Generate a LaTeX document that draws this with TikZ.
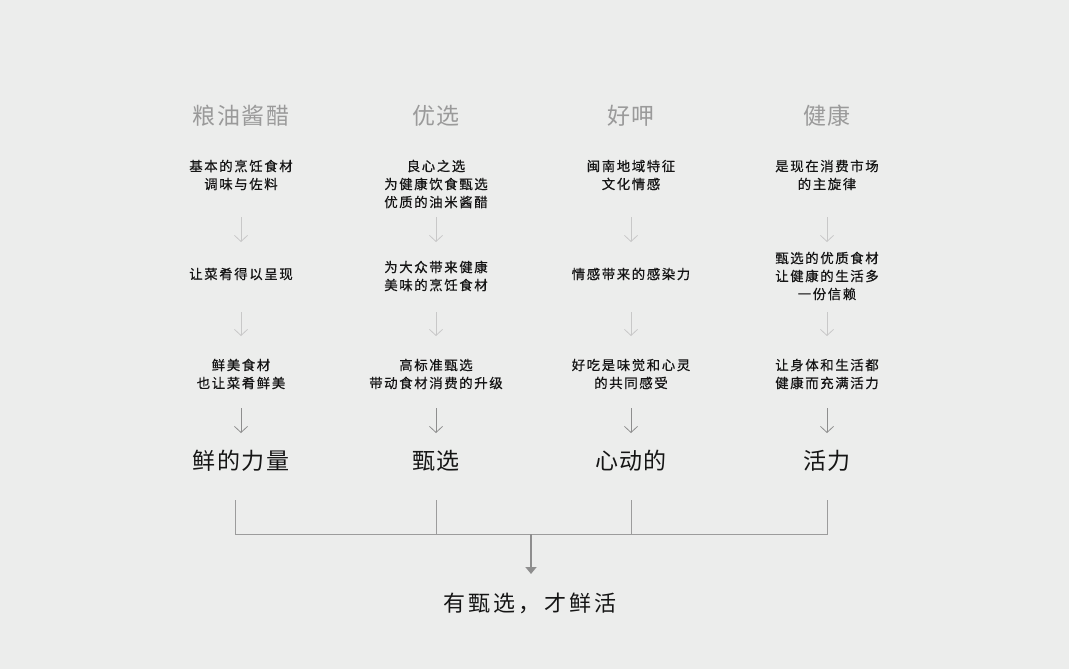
\documentclass[tikz,border=0pt]{standalone}
\usepackage{fontspec}
\usepackage{tikz}
\usepackage{xcolor}
\usetikzlibrary{
    arrows.meta
}
\newfontfamily\desccjk{Noto Sans CJK SC}[LetterSpace=12, FakeBold=0.6]
\newfontfamily\headcjk{Noto Sans CJK SC}[LetterSpace=6]
\newfontfamily\footcjk{Noto Sans CJK SC}[LetterSpace=15]
\definecolor{bggray}{HTML}{ECEDEC}
\definecolor{headgray}{HTML}{9A9A9A}
\definecolor{inkblack}{HTML}{151515}
\definecolor{palegray}{HTML}{C8C8C8}
\definecolor{midgray}{HTML}{8E8E8E}
\definecolor{bargray}{HTML}{9C9C9C}

\begin{document}
\begin{tikzpicture}[x=1pt, y=-1pt,
    headtext/.style={inner sep=0pt, text=headgray, font=\headcjk\fontsize{23}{27}\selectfont},
    desctext/.style={inner sep=0pt, align=center, text=inkblack, font=\desccjk\fontsize{13.4}{18}\selectfont},
    goaltext/.style={inner sep=0pt, text=inkblack, font=\headcjk\fontsize{23}{27}\selectfont},
    paledown/.style={palegray, line width=0.8pt, -{Straight Barb[length=6pt, width=13pt]}},
    darkdown/.style={midgray, line width=0.8pt, -{Straight Barb[length=6pt, width=13pt]}},
    barline/.style={bargray, line width=1pt}]
            \fill[bggray] (0,0) rectangle (1069,669);
            \useasboundingbox (0,0) rectangle (1069,669);

            % column heads
            \node[headtext] (head1) at (241,116) {粮油酱醋};
            \node[headtext] (head2) at (436,116) {优选};
            \node[headtext] (head3) at (631,116) {好呷};
            \node[headtext] (head4) at (827,116) {健康};

            % first row
            \node[desctext] (top1) at (241,175) {基本的烹饪食材\\调味与佐料};
            \node[desctext] (top2) at (436,184) {良心之选\\为健康饮食甄选\\优质的油米酱醋};
            \node[desctext] (top3) at (631,175) {闽南地域特征\\文化情感};
            \node[desctext] (top4) at (827,175) {是现在消费市场\\的主旋律};

            % second row
            \node[desctext] (mid1) at (241,274) {让菜肴得以呈现};
            \node[desctext] (mid2) at (436,276) {为大众带来健康\\美味的烹饪食材};
            \node[desctext] (mid3) at (631,274) {情感带来的感染力};
            \node[desctext] (mid4) at (827,276) {甄选的优质食材\\让健康的生活多\\一份信赖};

            % third row
            \node[desctext] (low1) at (241,374) {鲜美食材\\也让菜肴鲜美};
            \node[desctext] (low2) at (436,374) {高标准甄选\\带动食材消费的升级};
            \node[desctext] (low3) at (631,374) {好吃是味觉和心灵\\的共同感受};
            \node[desctext] (low4) at (827,374) {让身体和生活都\\健康而充满活力};

            % goals
            \node[goaltext] (goal1) at (241,461) {鲜的力量};
            \node[goaltext] (goal2) at (436,461) {甄选};
            \node[goaltext] (goal3) at (631,461) {心动的};
            \node[goaltext] (goal4) at (827,461) {活力};

            \node[inner sep=0pt, text=inkblack, font=\footcjk\fontsize{22}{26}\selectfont] (motto) at (530,603) {有甄选，才鲜活};

            % arrow ends
            \coordinate (a1s) at (241,217); \coordinate (a1e) at (241,242);
            \coordinate (a2s) at (436,217); \coordinate (a2e) at (436,242);
            \coordinate (a3s) at (631,217); \coordinate (a3e) at (631,242);
            \coordinate (a4s) at (827,217); \coordinate (a4e) at (827,242);

            \coordinate (b1s) at (241,312); \coordinate (b1e) at (241,336);
            \coordinate (b2s) at (436,312); \coordinate (b2e) at (436,336);
            \coordinate (b3s) at (631,312); \coordinate (b3e) at (631,336);
            \coordinate (b4s) at (827,312); \coordinate (b4e) at (827,336);

            \coordinate (c1s) at (241,408); \coordinate (c1e) at (241,433);
            \coordinate (c2s) at (436,408); \coordinate (c2e) at (436,433);
            \coordinate (c3s) at (631,408); \coordinate (c3e) at (631,433);
            \coordinate (c4s) at (827,408); \coordinate (c4e) at (827,433);

            \draw[paledown] (a1s)--(a1e);
            \draw[paledown] (a2s)--(a2e);
            \draw[paledown] (a3s)--(a3e);
            \draw[paledown] (a4s)--(a4e);

            \draw[paledown] (b1s)--(b1e);
            \draw[paledown] (b2s)--(b2e);
            \draw[paledown] (b3s)--(b3e);
            \draw[paledown] (b4s)--(b4e);

            \draw[darkdown] (c1s)--(c1e);
            \draw[darkdown] (c2s)--(c2e);
            \draw[darkdown] (c3s)--(c3e);
            \draw[darkdown] (c4s)--(c4e);

            % bracket
            \coordinate (k1) at (235,500); \coordinate (j1) at (235,534);
            \coordinate (k2) at (436,500); \coordinate (j2) at (436,534);
            \coordinate (k3) at (631,500); \coordinate (j3) at (631,534);
            \coordinate (k4) at (827,500); \coordinate (j4) at (827,534);
            \coordinate (j0) at (531,534);
            \coordinate (tip) at (531,574);

            \draw[barline] (k1)--(j1)--(j4)--(k4);
            \draw[barline] (k2)--(j2);
            \draw[barline] (k3)--(j3);
            \draw[midgray, line width=1.6pt, -{Triangle[length=7pt, width=11pt]}] (j0)--(tip);
\end{tikzpicture}
\end{document}
